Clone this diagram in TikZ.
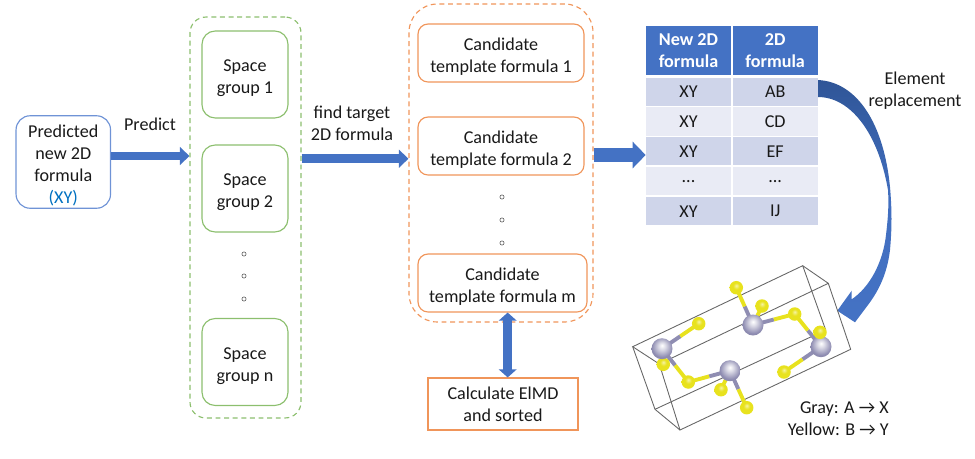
\documentclass[tikz,border=0pt]{standalone}
\usepackage{fontspec}
\setmainfont{Carlito}
\usetikzlibrary{arrows.meta}
\definecolor{arrowblue}{HTML}{4472C4}
\definecolor{darkblue}{HTML}{2F5597}
\definecolor{boxblue}{HTML}{6F93D6}
\definecolor{headblue}{HTML}{4472C4}
\definecolor{xyblue}{HTML}{0070C0}
\definecolor{boxgreen}{HTML}{8CBF6E}
\definecolor{boxorange}{HTML}{F0955A}
\definecolor{rowdark}{HTML}{CFD5EA}
\definecolor{rowlight}{HTML}{E9EBF5}
\definecolor{atomgray}{HTML}{8F8DB2}
\definecolor{atomyellow}{HTML}{E8E21E}
\pgfdeclareradialshading{grayball}{\pgfpoint{0bp}{8bp}}{color(0bp)=(white); color(8bp)=(white!70!atomgray); color(24bp)=(atomgray); color(50bp)=(atomgray!80!black)}
\pgfdeclareradialshading{yellowball}{\pgfpoint{0bp}{8bp}}{color(0bp)=(white!60!atomyellow); color(12bp)=(atomyellow); color(36bp)=(atomyellow); color(50bp)=(atomyellow!80!black)}
\newcommand{\lowline}{\rule{0pt}{11pt}}
\tikzset{
	every node/.style={font=\fontsize{10.3}{12.5}\selectfont,text=black!90},
	roundbox/.style={draw,line width=0.65pt,inner sep=0pt,align=center},
	groupbox/.style={roundbox,draw=boxgreen,rounded corners=7.5pt,minimum width=1.72cm,minimum height=1.74cm},
	formulabox/.style={roundbox,draw=boxorange,rounded corners=5.7pt,minimum height=1.16cm},
	outerbox/.style={draw,line width=0.65pt,dash pattern=on 2.8pt off 2.1pt,inner sep=0pt},
	bigarrow/.style={draw=arrowblue,line width=5pt,-{Triangle[length=5.4pt,width=10pt]}},
	twoarrow/.style={draw=arrowblue,line width=5pt,{Triangle[length=4.6pt,width=10pt]}-{Triangle[length=4.6pt,width=10pt]}},
	widearrow/.style={draw=arrowblue,line width=8pt,-{Triangle[length=7.4pt,width=14.8pt]}},
	dotmark/.style={circle,draw=black!70,line width=0.3pt,inner sep=0pt,minimum size=2.4pt},
	headcell/.style={fill=headblue,text=white,inner sep=0pt,align=center,minimum width=1.7cm,minimum height=0.98cm,font=\fontsize{10.3}{12.5}\selectfont\bfseries},
	darkcell/.style={fill=rowdark,inner sep=0pt,minimum width=1.7cm,minimum height=0.57cm},
	lightcell/.style={fill=rowlight,inner sep=0pt,minimum width=1.7cm,minimum height=0.57cm},
	grayatom/.style={circle,inner sep=0pt,minimum size=0.42cm,shading=grayball},
	yellowatom/.style={circle,inner sep=0pt,minimum size=0.27cm,shading=yellowball},
	cellline/.style={draw=black!60,line width=0.5pt},
	bondline/.style={line width=2.2pt},
}
\begin{document}
\begin{tikzpicture}[x=0.02cm,y=-0.02cm]
\useasboundingbox (0,0) rectangle (975,458);
% left box
\node[roundbox,draw=boxblue,rounded corners=8pt,minimum width=1.89cm,minimum height=1.85cm] (predicted) at (63.3,162) {\lowline Predicted\\new 2D\\formula\\\textcolor{xyblue}{(XY)}};
\node (predict) at (150,124) {Predict};
% space groups
\node[outerbox,draw=boxgreen,rounded corners=9pt,minimum width=2.22cm,minimum height=8.02cm] (groupouter) at (245.5,217.5) {};
\node[groupbox] (group1) at (245,74.5) {\lowline Space\\group 1};
\node[groupbox] (group2) at (245,188.5) {\lowline Space\\group 2};
\node[groupbox] (groupn) at (245,362) {\lowline Space\\group n};
\node[dotmark] (gdot1) at (244,254) {};
\node[dotmark] (gdot2) at (244,276) {};
\node[dotmark] (gdot3) at (244,299) {};
\node[align=center] (findtarget) at (352,123) {find target\\2D formula};
% candidates
\node[outerbox,draw=boxorange,rounded corners=16pt,minimum width=3.68cm,minimum height=6.36cm] (formulaouter) at (501,163) {};
\node[formulabox,minimum width=3.32cm] (formula1) at (501,53) {\lowline Candidate\\template formula 1};
\node[formulabox,minimum width=3.32cm] (formula2) at (501,146) {\lowline Candidate\\template formula 2};
\node[formulabox,minimum width=3.38cm] (formulam) at (502.5,283) {\lowline Candidate\\template formula m};
\node[dotmark] (fdot1) at (502,197) {};
\node[dotmark] (fdot2) at (502,220) {};
\node[dotmark] (fdot3) at (502,243) {};
\node[draw=boxorange,line width=0.65pt,inner sep=0pt,align=center,minimum width=3cm,minimum height=1.04cm] (elmd) at (503,404) {Calculate ElMD\\and sorted};
% table
\node[headcell] (head1) at (688.5,50.5) {New 2D\\formula};
\node[headcell] (head2) at (775.2,50.5) {2D\\formula};
\node[darkcell] (xy1) at (688.5,92) {XY};
\node[darkcell] (ab) at (775.2,92) {AB};
\node[lightcell] (xy2) at (688.5,121.4) {XY};
\node[lightcell] (cd) at (775.2,121.4) {CD};
\node[darkcell] (xy3) at (688.5,151.2) {XY};
\node[darkcell] (ef) at (775.2,151.2) {EF};
\node[lightcell] (xy4) at (688.5,181.2) {...};
\node[lightcell] (dots) at (775.2,181.2) {...};
\node[darkcell] (xy5) at (688.5,211.2) {XY};
\node[darkcell] (ij) at (775.2,211.2) {IJ};
\node[align=center] (element) at (915,91) {Element\\replacement};
% arrows
\draw[bigarrow] (predicted.east |- 0,156) -- (groupouter.west |- 0,156);
\draw[bigarrow] (groupouter.east |- 0,158.7) -- (formulaouter.west |- 0,158.7);
\draw[widearrow] (formulaouter.east |- 0,155) -- (xy3.west |- 0,155);
\draw[twoarrow] (formulam.south -| 507.7,0) -- (elmd.north -| 507.7,0);
% curved arrow
\shade[top color=darkblue,bottom color=arrowblue,middle color=arrowblue!90!darkblue]
	(818,80) .. controls (858,82) and (884,125) .. (890,187)
	.. controls (892,210) and (892,228) .. (890,250)
	.. controls (887,275) and (878,292) .. (866.7,306.7)
	-- (855,322.3) -- (837.3,310.7) -- (851.7,290.7) -- (851.7,299.3)
	.. controls (870,287) and (883,262) .. (886,235)
	.. controls (888,218) and (889,205) .. (888,190)
	.. controls (878,132) and (850,97) .. (818,97) -- cycle;
% unit cell
\coordinate (c1) at (632.7,346.7);
\coordinate (c2) at (802.7,265.7);
\coordinate (c3) at (828.3,283.3);
\coordinate (c4) at (659.3,364);
\coordinate (c5) at (850.7,349.3);
\coordinate (c6) at (680,430);
\coordinate (c7) at (655,409.3);
\coordinate (c8) at (825.7,330);
\draw[cellline] (c1)--(c2)--(c3)--(c4)--cycle;
\draw[cellline] (c3)--(c5)--(c6)--(c4);
\draw[cellline] (c1)--(c7)--(c6);
\draw[cellline] (c2)--(c8)--(c7);
% atoms
\coordinate (g1) at (662,348.7);
\coordinate (g2) at (753,325);
\coordinate (g3) at (730,370.7);
\coordinate (g4) at (821,346.7);
\coordinate (y1) at (736.3,287.7);
\coordinate (y2) at (762,306);
\coordinate (y3) at (794.7,314);
\coordinate (y4) at (820,332.3);
\coordinate (y5) at (698.7,323.7);
\coordinate (y6) at (663.3,364.3);
\coordinate (y7) at (688.3,382);
\coordinate (y8) at (721,389.7);
\coordinate (y9) at (746.7,407.7);
\coordinate (y10) at (784,372);
\foreach \ga/\ya in {g1/y5,g1/y6,g1/y7,g3/y7,g3/y8,g3/y9,g2/y1,g2/y2,g2/y3,g4/y3,g4/y4,g4/y10}{
	\path (\ga) -- (\ya) coordinate[pos=0.5] (mid);
	\draw[bondline,atomgray] (\ga) -- (mid);
	\draw[bondline,atomyellow] (mid) -- (\ya);
}
\node[yellowatom] (atomy6) at (y6) {};
\foreach \ga in {g1,g2,g3,g4}{
	\node[grayatom] (atom\ga) at (\ga) {};
}
\foreach \ya in {y1,y2,y3,y4,y5,y7,y8,y9,y10}{
	\node[yellowatom] (atom\ya) at (\ya) {};
}
\node[align=right,anchor=east,inner sep=0pt] (legend) at (889,419) {Gray: A → X\\Yellow: B → Y};
\end{tikzpicture}
\end{document}
